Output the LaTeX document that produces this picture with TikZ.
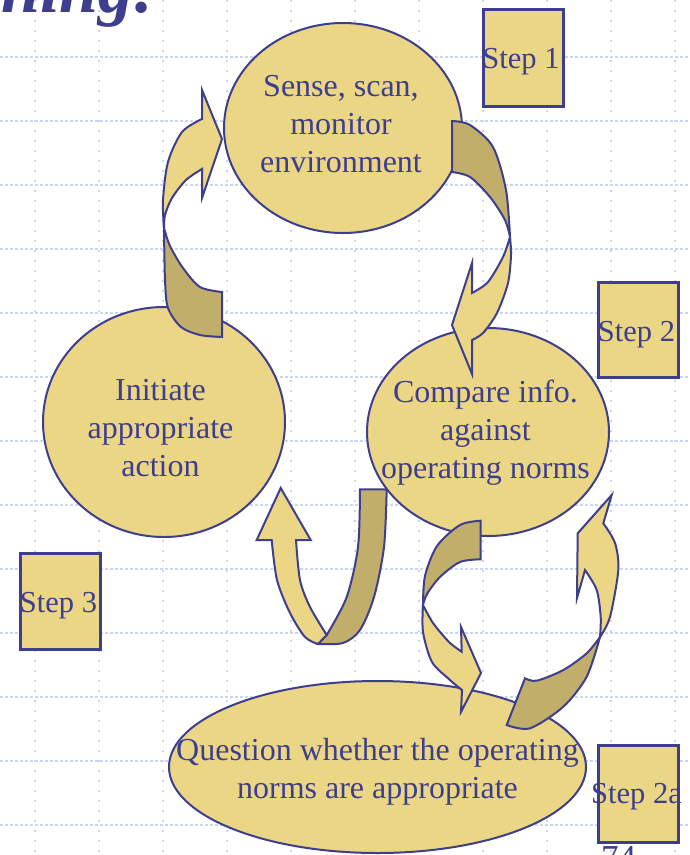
\documentclass[tikz,border=0pt]{standalone}
\usepackage{fontspec}
\setmainfont{Liberation Serif}
\usetikzlibrary{shapes.geometric}
\definecolor{ink}{RGB}{62,62,142}
\definecolor{sand}{RGB}{234,214,132}
\definecolor{olive}{RGB}{192,174,106}
\definecolor{gridblue}{RGB}{200,213,244}
\begin{document}
\begin{tikzpicture}[x=1pt,y=-1pt,
  bubble/.style={ellipse, draw=ink, line width=2pt, fill=sand, inner sep=0pt},
  stepbox/.style={rectangle, draw=ink, line width=2.6pt, fill=sand, inner sep=0pt,
    minimum width=80pt, minimum height=97pt, anchor=north west},
  ribbon/.style={draw=ink, line width=2pt, fill=sand},
  ribbonback/.style={ribbon, fill=olive},
  txt/.style={text=ink, font=\fontsize{32}{38}\selectfont, align=center, inner sep=0pt},
  steptxt/.style={text=ink, font=\fontsize{30.5}{36}\selectfont, inner sep=0pt, anchor=base},
]
\useasboundingbox (0,0) rectangle (690,855);
\clip (0,0) rectangle (690,855);
\fill[white] (0,0) rectangle (690,855);

% dotted background grid
\foreach \gy in {57,121,...,825}
  \draw[gridblue, line width=1.4pt, dash pattern=on 3pt off 2pt] (0,\gy) -- (690,\gy);
\foreach \gx in {35,99,...,675}
  \draw[gridblue, line width=1.4pt, dash pattern=on 2pt off 8pt] (\gx,0) -- (\gx,855);

% title (runs off the top of the page)
\node[anchor=base east, text=ink, inner sep=0pt,
      font=\fontsize{70}{70}\selectfont\bfseries\itshape] (title) at (157,12) {Learning:};

% the four stages
\node[bubble, minimum width=238pt, minimum height=210pt] (sense) at (343,128) {};
\node[txt] (senseText) at (341,124.4) {Sense, scan,\\monitor\\environment};

\node[bubble, minimum width=242pt, minimum height=208pt] (compare) at (488,432) {};
\node[txt] (compareText) at (485.5,432.5) {Compare info.\\against\\operating norms};

\node[bubble, minimum width=242pt, minimum height=230pt] (initiate) at (164,422) {};
\node[txt] (initiateText) at (160.5,428) {Initiate\\appropriate\\action};

\node[bubble, minimum width=417pt, minimum height=172pt] (question) at (377.5,767) {};
\node[txt] (questionText) at (377.5,771.5) {Question whether the operating\\norms are appropriate};

% step tags
\node[stepbox] (step1) at (482,8) {};
\node[steptxt] (step1Text) at (521,68) {Step 1};
\node[stepbox, minimum height=95pt] (step2) at (597,281) {};
\node[steptxt] (step2Text) at (636.5,341) {Step 2};
\node[stepbox, minimum height=96pt] (step3) at (19,552) {};
\node[steptxt] (step3Text) at (58.5,612) {Step 3};
\node[stepbox] (step2a) at (597,744) {};
\node[steptxt] (step2aText) at (636.5,803) {Step 2a};

% ribbon arrow: initiate -> sense
\draw[ribbonback] (164,228)
  -- plot[smooth] coordinates {(164,228) (165,280) (168,308) (181,327) (200,335) (222,337)}
  -- (222,292)
  -- plot[smooth] coordinates {(222,292) (200,287) (183,268) (170,246) (164,228)} -- cycle;
\draw[ribbon] (202,119) -- (202,90) -- (222,139) -- (202,198) -- (202,169)
  -- plot[smooth] coordinates {(202,169) (186,180) (172,198) (165,215) (164,228)}
  -- plot[smooth] coordinates {(164,228) (163,200) (168,162) (182,132) (202,119)} -- cycle;

% ribbon arrow: sense -> compare
\draw[ribbonback] (452,121)
  -- plot[smooth] coordinates {(452,121) (470,125) (493,147) (506,190) (510,237)}
  -- plot[smooth] coordinates {(510,237) (505,220) (490,197) (470,177) (452,172)} -- cycle;
\draw[ribbon] (472,293) -- (472,263) -- (452,325) -- (472,374) -- (472,340)
  -- plot[smooth] coordinates {(472,340) (483,333) (497,313) (508,283) (511,255) (510,237)}
  -- plot[smooth] coordinates {(510,237) (503,257) (488,282) (472,293)} -- cycle;

% ribbon arrow: compare -> question
\draw[ribbonback] (480.7,520.7)
  -- plot[smooth] coordinates {(480.7,520.7) (460,525) (437,546) (425,576) (423,605)}
  -- plot[smooth] coordinates {(423,605) (427,594) (440,577) (460,562) (480.7,559.3)} -- cycle;
\draw[ribbon] (461.7,651.7) -- (461,627) -- (481,673) -- (461,712) -- (462,690)
  -- plot[smooth] coordinates {(462,690) (450,680) (432,662) (423,632) (423,605)}
  -- plot[smooth] coordinates {(423,605) (433,623) (449,642) (461.7,651.7)} -- cycle;

% ribbon arrow: question -> compare
\draw[ribbonback] (600,637)
  -- plot[smooth] coordinates {(600,637) (586.7,676.7) (563.3,706.7) (530,728.3) (506.7,725)}
  -- (525,678.3)
  -- plot[smooth] coordinates {(525,678.3) (536.7,680.7) (563.3,670) (586.7,653.3) (600,637)} -- cycle;
\draw[ribbon] (585,570) -- (577,598) -- (577.7,533.3) -- (611.7,495) -- (603.3,523.3)
  -- plot[smooth] coordinates {(603.3,523.3) (615,543) (618.3,570) (610,617) (600,637)}
  -- plot[smooth] coordinates {(600,637) (600.7,617) (596.7,590) (585,570)} -- cycle;

% ribbon arrow: compare -> initiate
\draw[ribbonback] (326.7,635)
  -- plot[smooth] coordinates {(326.7,635) (346.7,597) (358,547) (360,489.3)}
  -- (386.7,489.3)
  -- plot[smooth] coordinates {(386.7,489.3) (384,547) (374,597) (360,630) (343,643) (318,644)} -- cycle;
\draw[ribbon] (271.7,540) -- (256.7,540) -- (280.7,488) -- (310.7,540) -- (296,540)
  -- plot[smooth] coordinates {(296,540) (300,580) (310,607) (326.7,635)}
  -- (318,644)
  -- plot[smooth] coordinates {(318,644) (305,637) (290,613) (277,580) (271.7,540)} -- cycle;

% page number (cut by the lower edge)
\node[anchor=base west, text=ink, inner sep=0pt, font=\fontsize{35}{35}\selectfont] (pageno) at (601,869) {74};
\end{tikzpicture}
\end{document}
